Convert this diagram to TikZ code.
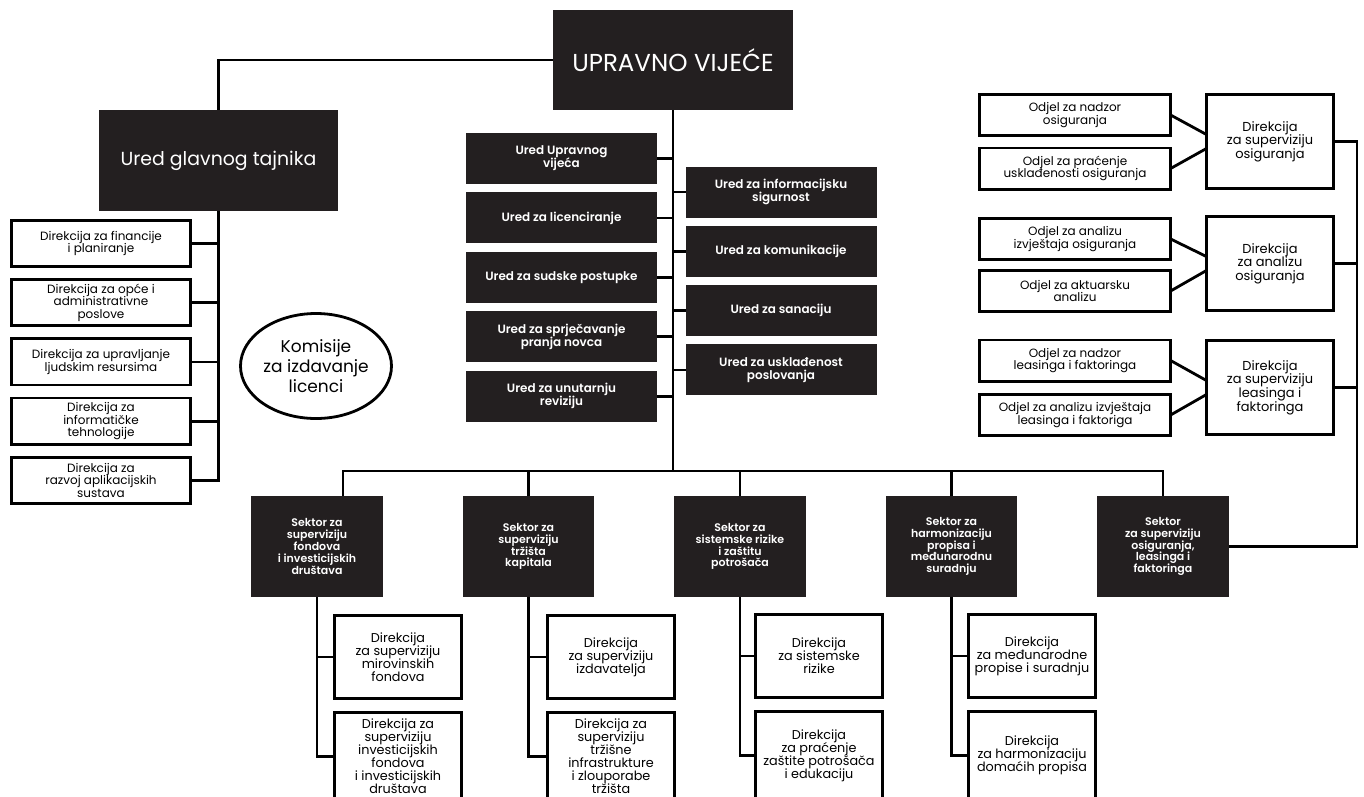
\documentclass[tikz,border=0pt]{standalone}
\usepackage{fontspec}
\setmainfont{Poppins}[BoldFont={Poppins SemiBold}]
\usepackage{tikz}
\usetikzlibrary{positioning}
\definecolor{boxdark}{HTML}{231F20}
\lineskiplimit=-100pt

\begin{document}
\begin{tikzpicture}[
    x=1pt, y=-1pt,
    every node/.style={align=center, inner sep=1pt, outer sep=0pt},
    head/.style={fill=boxdark, text=white},
    office/.style={fill=boxdark, text=white, minimum width=191pt, minimum height=51pt, font=\bfseries\fontsize{12}{12.8}\selectfont},
    sector/.style={fill=boxdark, text=white, minimum width=131.5pt, minimum height=101pt, font=\bfseries\fontsize{11}{11.8}\selectfont},
    unit/.style={draw, line width=2.8pt, fill=white, font=\fontsize{12}{12.8}\selectfont},
    directorate/.style={unit, minimum width=179.2pt, minimum height=46.2pt},
    department/.style={unit, minimum width=191.2pt, minimum height=41.2pt},
    division/.style={unit, minimum width=127.2pt, minimum height=94.6pt, font=\fontsize{13}{13.6}\selectfont},
    subdir/.style={unit, minimum width=127.2pt, minimum height=83.2pt, font=\fontsize{12.8}{13}\selectfont},
    link/.style={line width=2.8pt}
    ]
    \useasboundingbox (0,0) rectangle (1364,796);
    \clip (0,0) rectangle (1364,796);

    % Nodes
    \node (council) [head, minimum width=240pt, minimum height=100pt, font=\fontsize{24.5}{28}\selectfont] at (673,60) {UPRAVNO VIJEĆE};
    \node (secgen) [head, minimum width=239pt, minimum height=101pt, font=\fontsize{18.9}{22}\selectfont] at (218.5,160.5) {Ured glavnog tajnika};

    \node (dir1) [directorate] at (101,243.5) {Direkcija za financije\\i planiranje};
    \node (dir2) [directorate, below=13pt of dir1] {Direkcija za opće i\\administrativne\\poslove};
    \node (dir3) [directorate, below=13pt of dir2] {Direkcija za upravljanje\\ljudskim resursima};
    \node (dir4) [directorate, below=13pt of dir3] {Direkcija za\\informatičke\\tehnologije};
    \node (dir5) [directorate, below=13pt of dir4] {Direkcija za\\razvoj aplikacijskih\\sustava};

    \node (komisije) [font=\fontsize{17}{19.7}\selectfont] at (316,366) {Komisije\\za izdavanje\\licenci};

    \node (ured1) [office] at (561.5,158.5) {Ured Upravnog\\vijeća};
    \node (ured2) [office, below=8.4pt of ured1] {Ured za licenciranje};
    \node (ured3) [office, below=8.4pt of ured2] {Ured za sudske postupke};
    \node (ured4) [office, below=8.4pt of ured3] {Ured za sprječavanje\\pranja novca};
    \node (ured5) [office, below=8.4pt of ured4] {Ured za unutarnju\\reviziju};

    \node (ured6) [office] at (781,192) {Ured za informacijsku\\sigurnost};
    \node (ured7) [office, below=8.3pt of ured6] {Ured za komunikacije};
    \node (ured8) [office, below=8.3pt of ured7] {Ured za sanaciju};
    \node (ured9) [office, below=8.3pt of ured8] {Ured za usklađenost\\poslovanja};

    \node (odjel1) [department] at (1075,115) {Odjel za nadzor\\osiguranja};
    \node (odjel2) [department] at (1075,168.5) {Odjel za praćenje\\usklađenosti osiguranja};
    \node (odjel3) [department] at (1075,239) {Odjel za analizu\\izvještaja osiguranja};
    \node (odjel4) [department] at (1075,291) {Odjel za aktuarsku\\analizu};
    \node (odjel5) [department] at (1075,360.5) {Odjel za nadzor\\leasinga i faktoringa};
    \node (odjel6) [department] at (1075,415) {Odjel za analizu izvještaja\\leasinga i faktoriga};

    \node (div1) [division] at (1270,141.5) {Direkcija\\za superviziju\\osiguranja};
    \node (div2) [division] at (1270,263.5) {Direkcija\\za analizu\\osiguranja};
    \node (div3) [division] at (1270,387.5) {Direkcija\\za superviziju\\leasinga i\\faktoringa};

    \node (sec1) [sector] at (317,546.5) {Sektor za\\superviziju\\fondova\\i investicijskih\\društava};
    \node (sec2) [sector, right=80pt of sec1] {Sektor za\\superviziju\\tržišta\\kapitala};
    \node (sec3) [sector, right=80pt of sec2] {Sektor za\\sistemske rizike\\i zaštitu\\potrošača};
    \node (sec4) [sector, right=80pt of sec3] {Sektor za\\harmonizaciju\\propisa i\\međunarodnu\\suradnju};
    \node (sec5) [sector, right=80pt of sec4] {Sektor\\za superviziju\\osiguranja,\\leasinga i\\faktoringa};

    \node (sub11) [subdir] at (398,657) {Direkcija\\za superviziju\\mirovinskih\\fondova};
    \node (sub12) [subdir, minimum height=88pt, below=14pt of sub11] {Direkcija za\\superviziju\\investicijskih\\fondova\\i investicijskih\\društava};
    \node (sub21) [subdir] at (611,657) {Direkcija\\za superviziju\\izdavatelja};
    \node (sub22) [subdir, minimum height=88pt, below=14pt of sub21] {Direkcija za\\superviziju\\tržišne\\infrastrukture\\i zlouporabe\\tržišta};
    \node (sub31) [subdir] at (819,656) {Direkcija\\za sistemske\\rizike};
    \node (sub32) [subdir, minimum height=88pt, below=14pt of sub31] {Direkcija\\za praćenje\\zaštite potrošača\\i edukaciju};
    \node (sub41) [subdir] at (1032,656) {Direkcija\\za međunarodne\\propise i suradnju};
    \node (sub42) [subdir, minimum height=88pt, below=14pt of sub41] {Direkcija\\za harmonizaciju\\domaćih propisa};

    \coordinate (bus) at (673,471);
    \coordinate (rail) at (1357,141.5);

    % Connections
    \draw [link] (komisije.center) ellipse [x radius=75.5pt, y radius=52.5pt];
    \draw [link] (council.west) -| (secgen.north);
    \draw [link] (secgen.south) |- (dir5.east);
    \draw [link] (dir1.east) -- (dir1.east -| secgen.south);
    \draw [link] (dir2.east) -- (dir2.east -| secgen.south);
    \draw [link] (dir3.east) -- (dir3.east -| secgen.south);
    \draw [link] (dir4.east) -- (dir4.east -| secgen.south);

    \draw [link] (council.south) -- (bus);
    \draw [link] (ured1.east) -- (ured1.east -| bus);
    \draw [link] (ured2.east) -- (ured2.east -| bus);
    \draw [link] (ured3.east) -- (ured3.east -| bus);
    \draw [link] (ured4.east) -- (ured4.east -| bus);
    \draw [link] (ured5.east) -- (ured5.east -| bus);
    \draw [link] (ured6.west) -- (ured6.west -| bus);
    \draw [link] (ured7.west) -- (ured7.west -| bus);
    \draw [link] (ured8.west) -- (ured8.west -| bus);
    \draw [link] (ured9.west) -- (ured9.west -| bus);

    \draw [link] ([xshift=26pt]sec1.north) |- (bus) -| (sec5.north);
    \draw [link] (sec2.north) -- (sec2.north |- bus);
    \draw [link] (sec3.north) -- (sec3.north |- bus);
    \draw [link] (sec4.north) -- (sec4.north |- bus);

    \draw [link] (sec1.south) |- (sub12.west);
    \draw [link] (sub11.west) -- (sub11.west -| sec1.south);
    \draw [link] (sec2.south) |- (sub22.west);
    \draw [link] (sub21.west) -- (sub21.west -| sec2.south);
    \draw [link] (sec3.south) |- (sub32.west);
    \draw [link] (sub31.west) -- (sub31.west -| sec3.south);
    \draw [link] (sec4.south) |- (sub42.west);
    \draw [link] (sub41.west) -- (sub41.west -| sec4.south);

    \draw [link] (sec5.east) -| (rail) -- (div1.east);
    \draw [link] (div2.east) -- (div2.east -| rail);
    \draw [link] (div3.east) -- (div3.east -| rail);

    \draw [link] (odjel1.east) -- ([yshift=7pt]div1.west);
    \draw [link] (odjel2.east) -- ([yshift=-7pt]div1.west);
    \draw [link] (odjel3.east) -- ([yshift=7pt]div2.west);
    \draw [link] (odjel4.east) -- ([yshift=-7pt]div2.west);
    \draw [link] (odjel5.east) -- ([yshift=7pt]div3.west);
    \draw [link] (odjel6.east) -- ([yshift=-7pt]div3.west);

\end{tikzpicture}
\end{document}
